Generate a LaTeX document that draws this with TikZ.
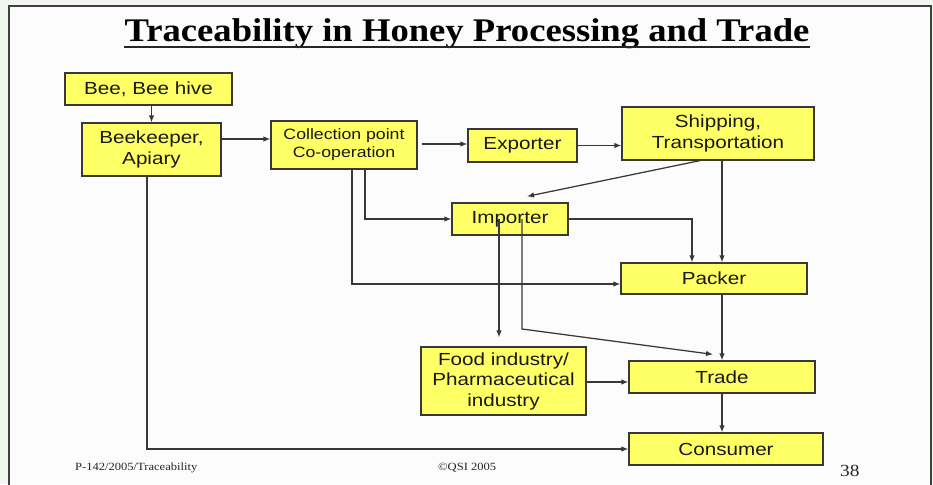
\documentclass[tikz,border=0pt]{standalone}
\usepackage{fontspec}
\setmainfont{Liberation Sans}[FakeStretch=1.18]
\newfontfamily\footfam{Liberation Serif}[FakeStretch=1.14]
\newfontfamily\titlefam{Liberation Serif}[FakeStretch=1.11]
\usetikzlibrary{arrows.meta,calc}
\definecolor{boxyellow}{HTML}{FFFF66}
\definecolor{linegray}{HTML}{383838}
\definecolor{outerbg}{HTML}{F2F6F0}
\definecolor{innerbg}{HTML}{FCFCFC}
\tikzset{
  box/.style={draw=linegray, line width=1.2pt, fill=boxyellow, inner sep=0pt, align=center,
    text=black!90, font=\fontsize{17.5}{20.5}\selectfont},
  smallbox/.style={box, font=\fontsize{15}{18}\selectfont},
  arr/.style={draw=linegray, line width=1.25pt, -{Latex[length=7pt,width=5.5pt]}},
  foot/.style={inner sep=0pt, font=\footfam\fontsize{11}{13}\selectfont, text=black!85}
}
\begin{document}
\begin{tikzpicture}[x=1pt,y=-1pt]
\useasboundingbox (0,0) rectangle (933,484);
\fill[outerbg] (0,0) rectangle (933,484);
\filldraw[fill=innerbg, draw=black!75, line width=1.2pt] (9,6) rectangle (931,492);

% title
\node[inner sep=0pt, anchor=base, font=\titlefam\bfseries\fontsize{33}{38}\selectfont] (title) at (467,42) {Traceability in Honey Processing and Trade};
\draw[line width=2.4pt, black!85] ($(title.base west)+(0,5)$) -- ($(title.base east)+(0,5)$);

% boxes
\node[box, minimum width=167pt, minimum height=32pt] (bee) at (148.5,89) {Bee, Bee hive};
\node[box, minimum width=139pt, minimum height=53pt] (keeper) at (151.5,149.5) {Beekeeper,\\Apiary};
\node[smallbox, minimum width=146pt, minimum height=48pt] (coll) at (344,145) {Collection point\\Co-operation};
\node[box, minimum width=109pt, minimum height=33pt] (exp) at (522.5,145.5) {Exporter};
\node[box, minimum width=192pt, minimum height=53pt] (ship) at (718,133.5) {Shipping,\\Transportation};
\node[box, minimum width=116pt, minimum height=32pt] (imp) at (510,219) {Importer};
\node[box, minimum width=186pt, minimum height=31pt] (pack) at (714,278.5) {Packer};
\node[box, minimum width=165pt, minimum height=68pt] (food) at (503.5,381) {Food industry/\\Pharmaceutical\\industry};
\node[box, minimum width=186pt, minimum height=32pt] (trade) at (722,377) {Trade};
\node[box, minimum width=194pt, minimum height=32pt] (cons) at (726,449) {Consumer};

% connectors
\draw[arr] (keeper.north |- bee.south) -- (keeper.north);
\draw[arr] (keeper.east |- 0,139) -- (coll.west |- 0,139);
\draw[arr] ($(coll.east)+(4,-1)$) -- (exp.west |- 0,144);
\draw[arr] (exp.east) -- (exp.east -| ship.west);
\draw[arr] ($(ship.south)+(-18,0)$) -- ($(imp.north)+(17,-6)$);
\draw[arr] (ship.south -| 722,0) -- (pack.north -| 722,0);
\draw[arr] (imp.east) -| (pack.north -| 692,0);
\draw[arr] (coll.south -| 365,0) |- (imp.west);
\draw[arr] (coll.south -| 352,0) |- (pack.west |- 0,284);
\draw[arr] (imp.center -| 499,0) -- ($(food.north -| 499,0)+(0,-9)$);
\draw[arr] (imp.center -| 522,0) -- (522,329) -- ($(trade.north)+(-9,-6)$);
\draw[arr] (pack.south -| trade.north) -- (trade.north);
\draw[arr] (food.east |- 0,382) -- (trade.west |- 0,382);
\draw[arr] (trade.south -| 722,0) -- (cons.north -| 722,0);
\draw[arr] (keeper.south -| 147,0) |- (cons.west);

% footer
\node[foot, anchor=base west] (ref) at (75,470) {P-142/2005/Traceability};
\node[foot, anchor=base west] (copy) at (438,470) {©QSI 2005};
\node[inner sep=0pt, anchor=base west, font=\footfam\fontsize{17}{20}\selectfont, text=black!85] (page) at (840,476) {38};
\end{tikzpicture}
\end{document}
